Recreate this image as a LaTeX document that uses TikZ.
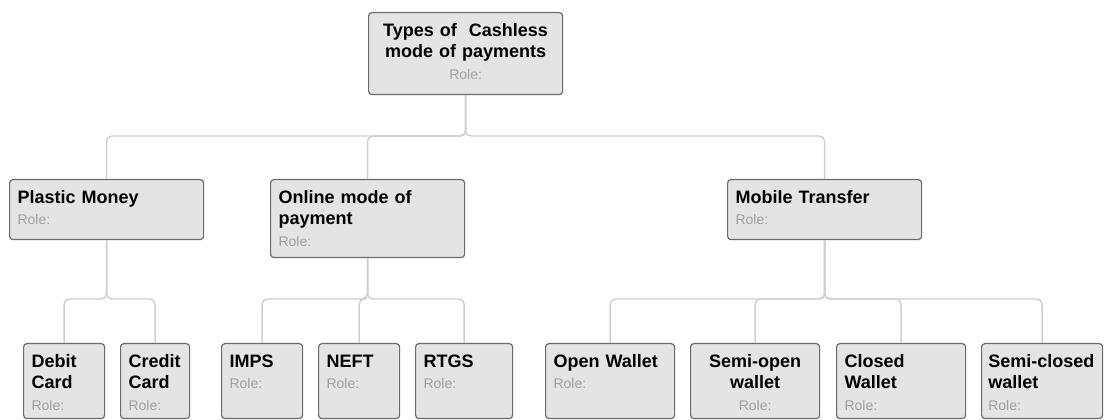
\documentclass[tikz,border=0pt]{standalone}
\usepackage{fontspec}
\setmainfont{Liberation Sans}
\usepackage{xcolor}
\usepackage{tikz}
\usetikzlibrary{positioning, calc}

\definecolor{cardfill}{HTML}{E4E4E4}
\definecolor{cardline}{HTML}{6B6B6B}
\definecolor{linkgray}{HTML}{CFCFCF}
\definecolor{rolegray}{HTML}{A0A0A0}

\newcommand{\rolelabel}{{\fontsize{10.5}{12}\selectfont\mdseries\color{rolegray}Role:}}

\tikzset{
  card/.style={draw=cardline, fill=cardfill, line width=0.9pt, rounded corners=2.5pt,
    anchor=north west, inner xsep=6pt, inner ysep=8pt, text height=10pt,
    align=left, font=\fontsize{13.5}{16}\selectfont\bfseries},
  link/.style={draw=linkgray, line width=1.1pt, rounded corners=4pt}
}

\begin{document}
\begin{tikzpicture}[x=0.75pt, y=-0.75pt]
  \useasboundingbox (0,0) rectangle (1104,420);

  % top
  \node[card, align=center, text width=133.5pt, text depth=35.5pt] (root) at (368,12)
    {Types of\ \ Cashless\\mode of payments\\\rolelabel};

  % second row
  \node[card, text width=133.5pt, text depth=19pt] (plastic) at (9,179) {Plastic Money\\\rolelabel};
  \node[card, text width=133.5pt, text depth=32.5pt] (online) at (270,179) {Online mode of\\payment\\\rolelabel};
  \node[card, text width=133.5pt, text depth=19pt] (mobile) at (727,179) {Mobile Transfer\\\rolelabel};

  % third row
  \node[card, text width=48.75pt, text depth=30.25pt] (debit) at (23,343) {Debit\\Card\\\rolelabel};
  \node[card, text width=39.75pt, text depth=30.25pt] (credit) at (120,343) {Credit\\Card\\\rolelabel};
  \node[card, text width=48.75pt, text depth=30.25pt] (imps) at (221,343) {IMPS\\\rolelabel};
  \node[card, text width=48.75pt, text depth=30.25pt] (neft) at (318,343) {NEFT\\\rolelabel};
  \node[card, text width=60.75pt, text depth=30.25pt] (rtgs) at (415,343) {RTGS\\\rolelabel};
  \node[card, text width=84.75pt, text depth=30.25pt] (openw) at (545,343) {Open Wallet\\\rolelabel};
  \node[card, align=center, text width=84.75pt, text depth=30.25pt] (semiopen) at (690,343) {Semi-open\\wallet\\\rolelabel};
  \node[card, text width=84.75pt, text depth=30.25pt] (closed) at (836,343) {Closed\\Wallet\\\rolelabel};
  \node[card, inner xsep=5pt, text width=80.75pt, text depth=30.25pt] (semiclosed) at (981,343) {\mbox{Semi-closed}\\wallet\\\rolelabel};

  % connectors
  \coordinate (bus1) at (0,136);
  \coordinate (bus2) at (0,299);
  \foreach \kid in {plastic, online, mobile}
    \draw[link] (root.south) |- (bus1 -| \kid.north) -- (\kid.north);
  \foreach \kid in {debit, credit}
    \draw[link] (plastic.south) |- (bus2 -| \kid.north) -- (\kid.north);
  \foreach \kid in {imps, neft, rtgs}
    \draw[link] (online.south) |- (bus2 -| \kid.north) -- (\kid.north);
  \foreach \kid in {openw, semiopen, closed, semiclosed}
    \draw[link] (mobile.south) |- (bus2 -| \kid.north) -- (\kid.north);
\end{tikzpicture}
\end{document}
